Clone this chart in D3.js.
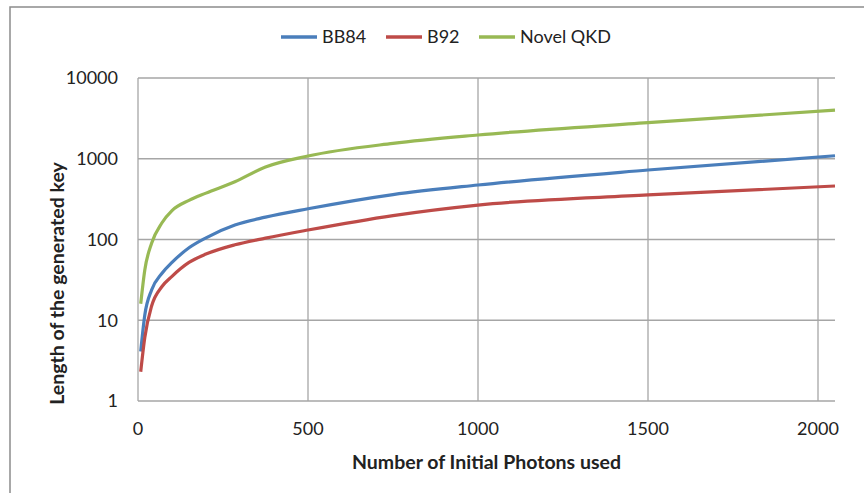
<!DOCTYPE html>
<meta charset="utf-8">
<head>
<style>
body { margin: 0; background: #fff; }
text { font-family: Lato, "Open Sans", sans-serif; fill: #222; }
.grid line { stroke: #a6a6a6; stroke-width: 1.3px; }
</style>
</head>
<body>
<script src="https://d3js.org/d3.v7.min.js"></script>
<script>

var width = 864,
    height = 493;

// data
var photons = [8, 20, 40, 70, 100, 150, 200, 285, 375, 500, 750, 1000, 1500, 2050];
var bb84    = [4.1, 11.6, 23.7, 38, 52, 79, 105, 151, 189, 240, 360, 473, 725, 1090];
var b92     = [2.3, 6.1, 15, 26, 35, 52, 66, 86, 104, 131, 198, 267, 356, 460];
var novel   = [16, 42, 90, 160, 228, 305, 375, 520, 790, 1080, 1550, 1970, 2800, 4000];

var seriesNames = ["BB84", "B92", "Novel QKD"];
var seriesColors = ["#4a7ebb", "#be4b48", "#98b954"];
var series = [bb84, b92, novel];

var xTicks = [0, 500, 1000, 1500, 2000];
var yTicks = [1, 10, 100, 1000, 10000];

var margin = {left: 138, right: 29, top: 78, bottom: 92};

var svg = d3.select("body").append("svg")
    .attr("width", width)
    .attr("height", height);

// outer frame
svg.append("rect")
    .attr("x", 10).attr("y", 7)
    .attr("width", 880).attr("height", 520)
    .attr("fill", "none")
    .attr("stroke", "#8c8c8c")
    .attr("stroke-width", 1.5);

var x = d3.scaleLinear()
    .domain([0, 2050])
    .range([margin.left, width - margin.right]);

var y = d3.scaleLog()
    .domain([1, 10000])
    .range([height - margin.bottom, margin.top]);

var grid = svg.append("g").attr("class", "grid");

grid.selectAll(".hy")
    .data(yTicks)
  .enter().append("line")
    .attr("x1", x(0)).attr("x2", x(2050))
    .attr("y1", function(d) { return y(d); })
    .attr("y2", function(d) { return y(d); });

grid.selectAll(".vx")
    .data(xTicks)
  .enter().append("line")
    .attr("x1", function(d) { return x(d); })
    .attr("x2", function(d) { return x(d); })
    .attr("y1", y(1)).attr("y2", y(10000));

// tick labels
svg.append("g").selectAll("text")
    .data(yTicks)
  .enter().append("text")
    .attr("x", x(0) - 20)
    .attr("y", function(d) { return y(d); })
    .attr("dy", "0.35em")
    .attr("text-anchor", "end")
    .style("font-size", "18px")
    .text(function(d) { return d; });

svg.append("g").selectAll("text")
    .data(xTicks)
  .enter().append("text")
    .attr("x", function(d) { return x(d); })
    .attr("y", y(1) + 28)
    .attr("dy", "0.35em")
    .attr("text-anchor", "middle")
    .style("font-size", "18px")
    .text(function(d) { return d; });

// axis titles
svg.append("text")
    .attr("x", (x(0) + x(2050)) / 2)
    .attr("y", 462)
    .attr("dy", "0.35em")
    .attr("text-anchor", "middle")
    .style("font-size", "19.5px")
    .style("font-weight", "bold")
    .text("Number of Initial Photons used");

svg.append("text")
    .attr("transform", "translate(57," + ((y(1) + y(10000)) / 2 + 44) + ") rotate(-90)")
    .attr("dy", "0.35em")
    .attr("text-anchor", "middle")
    .style("font-size", "19.5px")
    .style("font-weight", "bold")
    .text("Length of the generated key");

// lines
var line = d3.line()
    .x(function(d) { return x(d[0]); })
    .y(function(d) { return y(d[1]); })
    .curve(d3.curveMonotoneX);

svg.append("g").selectAll("path")
    .data(series)
  .enter().append("path")
    .attr("fill", "none")
    .attr("stroke", function(d, i) { return seriesColors[i]; })
    .attr("stroke-width", 3.2)
    .attr("d", function(d) {
      return line(d.map(function(v, i) { return [photons[i], v]; }));
    });

// legend
var legendX = [281, 386, 479];
var legend = svg.append("g").selectAll("g")
    .data(seriesNames)
  .enter().append("g")
    .attr("transform", function(d, i) { return "translate(" + legendX[i] + ",37)"; });

legend.append("line")
    .attr("x1", 0).attr("x2", 36)
    .attr("stroke", function(d, i) { return seriesColors[i]; })
    .attr("stroke-width", 3.5);

legend.append("text")
    .attr("x", 41)
    .attr("dy", "0.35em")
    .style("font-size", "18px")
    .text(function(d) { return d; });

</script>
</body>
